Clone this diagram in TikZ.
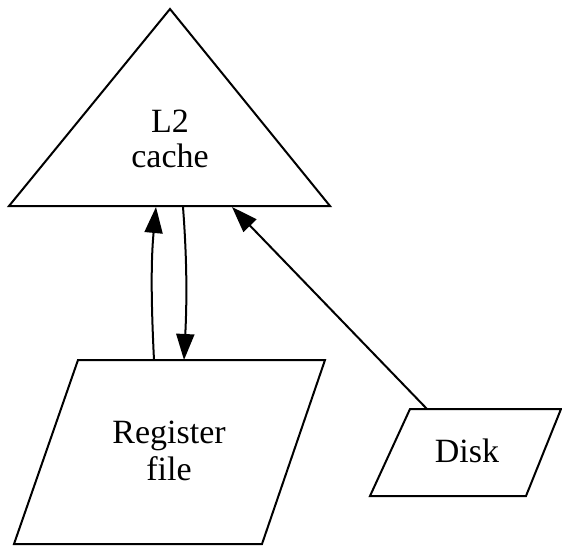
\documentclass[tikz,border=0pt]{standalone}
\usepackage{fontspec}
\setmainfont{Liberation Serif}
\usetikzlibrary{arrows.meta}
\tikzset{
  shapeline/.style={draw=black, line width=2pt, line join=miter},
  lbl/.style={font=\fontsize{34}{38}\selectfont, align=center, inner sep=0pt},
  link/.style={draw=black, line width=2pt, -{Triangle[length=26pt,width=18pt]}},
}
\begin{document}
\begin{tikzpicture}[x=1pt,y=-1pt]
\useasboundingbox (0,0) rectangle (562,546);
% L2 cache triangle
\draw[shapeline] (170,9) -- (330,206) -- (9,206) -- cycle;
\node[lbl, anchor=base] (l2a) at (170,132) {L2};
\node[lbl, anchor=base] (l2b) at (170,167) {cache};
% Register file parallelogram
\draw[shapeline] (78,360) -- (325,360) -- (262,544) -- (14,544) -- cycle;
\node[lbl, anchor=base] (rfa) at (169,443) {Register};
\node[lbl, anchor=base] (rfb) at (169,480) {file};
% Disk parallelogram
\draw[shapeline] (410,409) -- (561,409) -- (526,496) -- (370,496) -- cycle;
\node[lbl, anchor=base] (disk) at (467,462) {Disk};
% connection points on the outlines
\coordinate (cacheA) at (156,207);
\coordinate (cacheB) at (183,207);
\coordinate (cacheC) at (232,207);
\coordinate (regA) at (154,360);
\coordinate (regB) at (184,360);
\coordinate (diskT) at (427,409);
% connectors
\draw[link] (regA) .. controls (151,300) and (151,260) .. (cacheA);
\draw[link] (cacheB) .. controls (187,260) and (187,300) .. (regB);
\draw[link] (diskT) -- (cacheC);
\end{tikzpicture}
\end{document}
